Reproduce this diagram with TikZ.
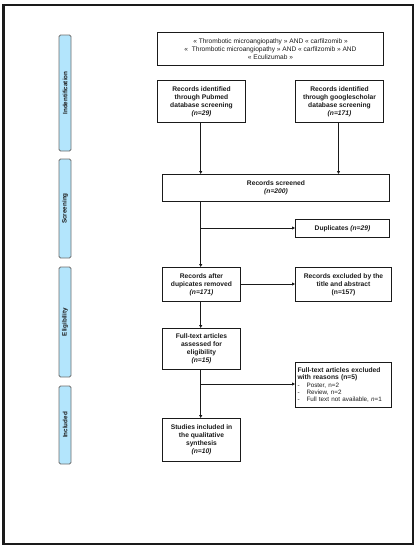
\documentclass[tikz,border=0pt]{standalone}
\usepackage{fontspec}
\setmainfont{Liberation Sans}
\usetikzlibrary{arrows.meta}
\definecolor{barblue}{HTML}{B3E5FC}
\definecolor{bargrey}{HTML}{6E6E6E}
\definecolor{ink}{HTML}{1A1A1A}
\begin{document}
\begin{tikzpicture}[x=1pt,y=-1pt,
  box/.style={draw=ink,line width=1pt,inner sep=0pt,align=center,font=\fontsize{6.7}{7.9}\selectfont\bfseries,text=ink},
  bar/.style={draw=bargrey,fill=barblue,line width=0.9pt,rounded corners=1.5pt},
  bartext/.style={rotate=90,font=\fontsize{6.3}{7}\selectfont\bfseries,text=ink},
  arr/.style={draw=ink,line width=0.95pt,-{Triangle[length=3pt,width=3pt]}}]
\useasboundingbox (0,0) rectangle (419,550);
\draw[line width=2.4pt,draw=ink] (3.5,5) rectangle (413,544);
% side bars
\draw[bar] (59,35) rectangle (71,151);
\node[bartext] (b1) at (65,93) {Indentification};
\draw[bar] (59,159) rectangle (71,258);
\node[bartext] (b2) at (65,208.5) {Screening};
\draw[bar] (59,267) rectangle (71,377);
\node[bartext] (b3) at (65,322) {Eligibility};
\draw[bar] (59,386) rectangle (71,464);
\node[bartext] (b4) at (65,425) {Included};
% boxes
\node[box,minimum width=226pt,minimum height=33pt,font=\fontsize{6.6}{7.7}\selectfont,anchor=north west] (search) at (157,32)
  {« Thrombotic microangiopathy » AND « carfilzomib »\\
   «~ Thrombotic microangiopathy » AND « carfilzomib » AND\\
   « Eculizumab »};
\node[box,minimum width=88pt,minimum height=42pt,anchor=north west] (pub) at (157,80)
  {Records identified\\through Pubmed\\database screening\\\textit{(n=29)}};
\node[box,minimum width=88pt,minimum height=42pt,anchor=north west] (gs) at (295,80)
  {Records identified\\through googlescholar\\database screening\\\textit{(n=171)}};
\node[box,minimum width=227pt,minimum height=27pt,anchor=north west] (scr) at (162,174)
  {Records screened\\\textit{(n=200)}};
\node[box,minimum width=94pt,minimum height=18pt,anchor=north west] (dup) at (295,219)
  {Duplicates \textit{(n=29)}};
\node[box,minimum width=78pt,minimum height=34pt,anchor=north west] (after) at (162,267)
  {Records after\\dupicates removed\\\textit{(n=171)}};
\node[box,minimum width=96pt,minimum height=34pt,anchor=north west] (excl) at (295,267)
  {Records excluded by the\\title and abstract\\(n=157)};
\node[box,minimum width=78pt,minimum height=41pt,anchor=north west] (full) at (162,328)
  {Full-text articles\\assessed for\\eligibility\\\textit{(n=15)}};
\node[box,minimum width=96pt,minimum height=45pt,anchor=north west,align=left,text width=92pt,inner xsep=2pt,font=\fontsize{6.7}{7.2}\selectfont\bfseries] (fexcl) at (295,362)
  {Full-text articles excluded\\with reasons (n=5)\\
   {\mdseries\fontsize{6.3}{6.6}\selectfont -\hspace{7pt}Poster, n=2}\\
   {\mdseries\fontsize{6.3}{6.6}\selectfont -\hspace{7pt}Review, n=2}\\
   {\mdseries\fontsize{6.3}{6.6}\selectfont -\hspace{7pt}Full text not available, \textit{n}=1}};
\node[box,minimum width=78pt,minimum height=43pt,anchor=north west] (stud) at (162,418)
  {Studies included in\\the qualitative\\synthesis\\\textit{(n=10)}};
% connectors
\coordinate (c1) at (200.7,228);
\coordinate (c2) at (200.7,284);
\coordinate (c3) at (200.7,384);
\draw[arr] (pub.south -| c1) -- (scr.north -| c1);
\draw[arr] (gs.south) ++(-1,0) coordinate (g1) -- (scr.north -| g1);
\draw[arr] (scr.south -| c1) -- (after.north -| c1);
\draw[arr] (c1) -- (dup.west |- c1);
\draw[arr] (after.east |- c2) -- (excl.west |- c2);
\draw[arr] (after.south -| c1) -- (full.north -| c1);
\draw[arr] (full.south -| c1) -- (stud.north -| c1);
\draw[arr] (c3) -- (fexcl.west |- c3);
\end{tikzpicture}
\end{document}
